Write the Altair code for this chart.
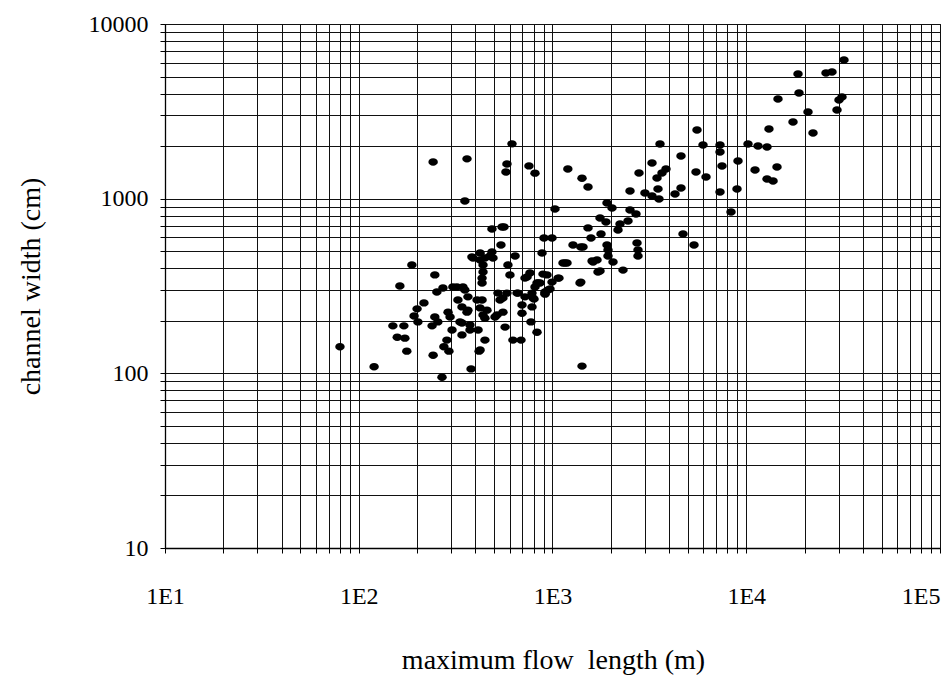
import altair as alt
import pandas as pd

# maximum flow length (m)
flow_length_m = [
    80, 120, 163, 188, 247, 150, 171, 158, 173, 177,
    217, 200, 193, 202, 242, 269, 275, 292, 285, 247,
    239, 256, 253, 272, 306, 345, 289, 296, 303, 325,
    341, 362, 333, 375, 341, 375, 413, 380, 418, 448,
    353, 366, 408, 423, 438, 459, 448, 505, 517, 555,
    536, 582, 523, 569, 625, 688, 696, 696, 784, 774,
    832, 656, 721, 793, 832, 765, 721, 603, 937, 915,
    433, 433, 438, 384, 423, 438, 476, 493, 589, 641,
    883, 242, 362, 618, 582, 575, 756, 812, 353, 487,
    549, 562, 542, 904, 994, 487, 448, 423, 389, 739,
    842, 971, 803, 555, 321, 341, 423, 1420, 1160, 1068,
    994, 1400, 862, 812, 915, 784, 664, 366, 433, 1200,
    1420, 1030, 1276, 1400, 893, 1080, 948, 915, 1133, 1188,
    1620, 1717, 2312, 2053, 1934, 2762, 2762, 2730, 1934, 1911,
    1600, 1437, 1525, 1911, 2029, 2512, 2698, 1759, 1888, 2231,
    2453, 2178, 1525, 1780, 1580, 4717, 5375, 8344, 2512, 3000,
    3263, 3545, 3503, 4289, 4605, 7321, 8961, 2795, 3263, 3853,
    3674, 3462, 5504, 6200, 4605, 3588, 5570, 5981, 7321, 7321,
    10210, 11500, 12800, 9067, 7497, 11100, 14410, 12800, 13750, 13100,
    17430, 22110, 20830, 14580, 18720, 18500, 25800, 27700, 31950, 31200,
    30100, 29400, 1697, 1759, 1387,
]

# channel width (cm)
channel_width_cm = [
    142, 109, 316, 417, 366, 187, 187, 161, 159, 134,
    253, 234, 213, 197, 127, 95, 142, 134, 155, 210,
    187, 197, 292, 308, 312, 312, 224, 210, 177, 263,
    240, 224, 197, 189, 166, 177, 177, 106, 134, 155,
    300, 274, 263, 237, 216, 230, 207, 210, 216, 224,
    263, 288, 288, 184, 155, 155, 246, 221, 240, 197,
    172, 288, 274, 270, 329, 375, 351, 366, 366, 292,
    351, 329, 380, 464, 446, 417, 470, 457, 417, 470,
    489, 1620, 1690, 2060, 1580, 1420, 1540, 1400, 970, 670,
    688, 688, 543, 595, 595, 495, 457, 489, 457, 356,
    329, 304, 266, 270, 312, 194, 136, 110, 428, 351,
    333, 333, 329, 312, 288, 288, 288, 230, 263, 1480,
    1310, 873, 543, 529, 370, 351, 300, 284, 428, 428,
    434, 380, 390, 434, 470, 470, 508, 558, 508, 543,
    440, 529, 1166, 945, 884, 861, 817, 775, 735, 716,
    745, 662, 680, 628, 595, 628, 543, 839, 1106, 1078,
    1036, 996, 1136, 1063, 1151, 1092, 1136, 1403, 1601, 1479,
    1403, 1313, 1421, 1330, 1755, 2056, 2473, 2030, 2030, 1850,
    2056, 2003, 1976, 1643, 1538, 1459, 1519, 1296, 1262, 2506,
    2748, 2377, 3134, 3720, 4027, 5173, 5242, 5312, 6221, 3821,
    3672, 3218, 446, 385, 329,
]

# grid / tick positions (log cycles)
x_ticks = [m * 10 ** k for k in range(1, 5) for m in range(1, 10)] + [100000]
y_ticks = [m * 10 ** k for k in range(1, 4) for m in range(1, 10)] + [10000]

df = pd.DataFrame({"flow": flow_length_m, "width": channel_width_cm})

FONT = "Liberation Serif"
ELLIPSE = "M-1,0A1,0.78,0,1,0,1,0A1,0.78,0,1,0,-1,0Z"

x_axis = alt.Axis(
    values=x_ticks,
    labelExpr=("datum.value == 10 ? '1E1' : datum.value == 100 ? '1E2' : "
               "datum.value == 1000 ? '1E3' : datum.value == 10000 ? '1E4' : "
               "datum.value == 100000 ? '1E5' : ''"),
    labelAlign={"condition": {"test": "datum.value >= 100000", "value": "right"},
                "value": "center"},
    labelFlush=False,
    labelOverlap=False,
    labelBaseline="middle",
    labelPadding=43,
    labelFont=FONT,
    labelFontSize=24,
    labelColor="black",
    tickSize=5,
    tickColor="black",
    grid=True,
    gridColor="#111111",
    gridWidth=1,
    gridOpacity=1,
    domainColor="black",
    domainWidth=1.3,
    title="maximum flow \u00a0length (m)",
    titleFont=FONT,
    titleFontSize=28,
    titleFontWeight="normal",
    titleColor="black",
    titleX=388,
    titleY=112,
    titleAlign="center",
    titleBaseline="middle",
)

y_axis = alt.Axis(
    values=y_ticks,
    labelExpr="indexof([10, 100, 1000, 10000], datum.value) >= 0 ? format(datum.value, 'd') : ''",
    labelOverlap=False,
    labelFlush=False,
    labelPadding=12,
    labelFont=FONT,
    labelFontSize=24,
    labelColor="black",
    tickSize=5,
    tickColor="black",
    grid=True,
    gridColor="#111111",
    gridWidth=1,
    gridOpacity=1,
    domainColor="black",
    domainWidth=1.3,
    title="channel width (cm)",
    titleFont=FONT,
    titleFontSize=28,
    titleFontWeight="normal",
    titleColor="black",
    titleAngle=270,
    titleX=-134,
    titleY=262,
    titleAlign="center",
    titleBaseline="middle",
)

chart = (
    alt.Chart(df)
    .mark_point(filled=True, shape=ELLIPSE, size=90, color="black", opacity=1)
    .encode(
        x=alt.X("flow:Q", scale=alt.Scale(type="log", domain=[10, 100000], nice=False), axis=x_axis),
        y=alt.Y("width:Q", scale=alt.Scale(type="log", domain=[10, 10000], nice=False), axis=y_axis),
    )
    .properties(
        width=775,
        height=524,
        autosize=alt.AutoSizeParams(type="none"),
        padding={"left": 165, "top": 24, "right": 3, "bottom": 133},
        background="white",
    )
    .configure_view(stroke="black", strokeWidth=1)
)

chart.save("out.html", embed_options={"renderer": "svg", "actions": False})
